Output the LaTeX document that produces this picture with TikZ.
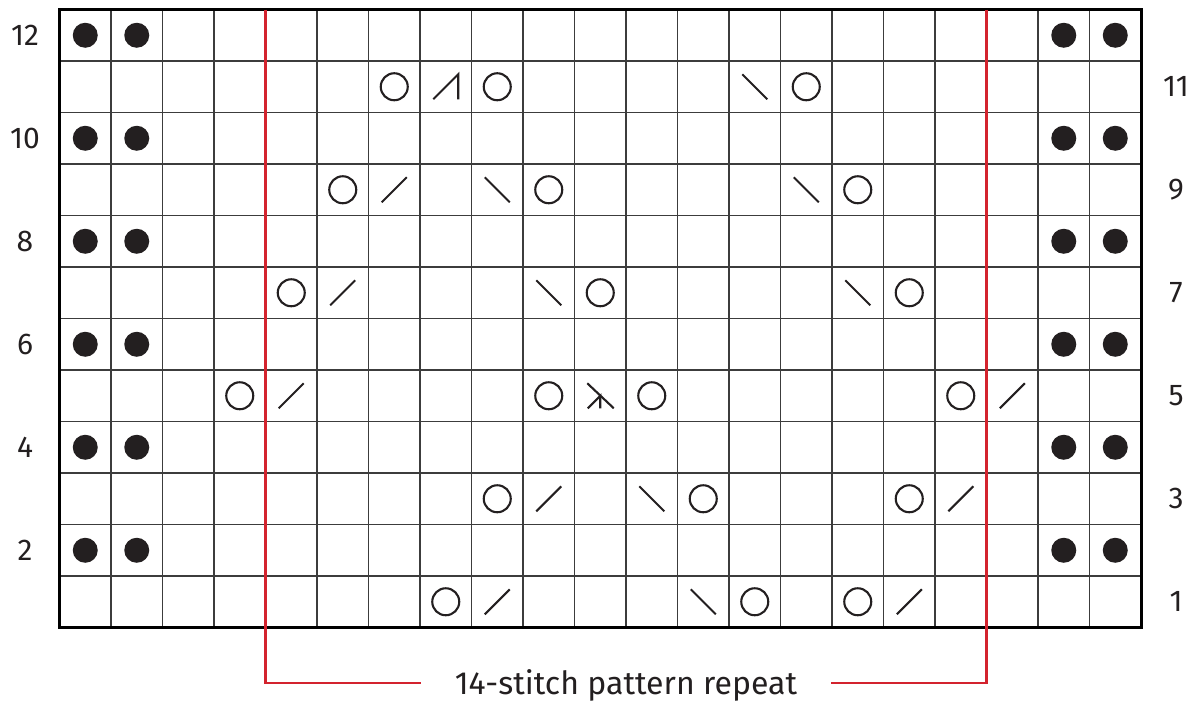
\documentclass[tikz,border=0pt]{standalone}
\usepackage{fontspec}
\setmainfont{Fira Sans}
\definecolor{ink}{RGB}{35,31,32}
\definecolor{repred}{RGB}{211,35,46}
\definecolor{gridc}{RGB}{60,60,60}
\begin{document}
\begin{tikzpicture}[x=1pt,y=-1pt]
\tikzset{
  gridline/.style={line width=1.3pt, draw=gridc},
  border/.style={line width=3pt, draw=black},
  sym/.style={line width=2.1pt, draw=ink},
  redline/.style={line width=2.8pt, draw=repred},
  rowlbl/.style={font=\fontsize{30}{30}\selectfont, text=ink, inner sep=0pt},
  replbl/.style={font=\fontsize{32}{32}\selectfont, text=ink, anchor=base, inner xsep=34pt, inner ysep=0pt, outer sep=0pt},
  pics/yarnover/.style={code={\draw[sym] (0,0) circle (13.5pt);}},
  pics/ktwotog/.style={code={\draw[sym] (-12.5,12.5) -- (12.5,-12.5);}},
  pics/sskdec/.style={code={\draw[sym] (-12.5,-12.5) -- (12.5,12.5);}},
  pics/kthreetog/.style={code={\draw[sym] (-12.5,12.5) -- (12.5,-12.5) -- (12.5,12.5);}},
  pics/cddec/.style={code={\draw[sym] (-13,-12.5) -- (13.5,12.5); \draw[sym] (-12.5,12.5) -- (0,0) -- (0,12.5);}},
  pics/purldot/.style={code={\fill[ink] (0,0) circle (12.5pt);}},
}
\useasboundingbox (0,0) rectangle (1191,702);
% grid
\foreach \i in {1,...,20} \draw[gridline] ({59.5+\i*51.5},9.5) -- ++(0,618);
\foreach \j in {1,...,11} \draw[gridline] (59.5,{9.5+\j*51.5}) -- ++(1081.5,0);
\draw[border] (59.5,9.5) rectangle (1141,627.5);
% purl dots
\foreach \r in {2,4,...,12}
  \foreach \c in {0,1,19,20}
    \pic at ({59.5+51.5*(\c+0.5)},{9.5+51.5*(12.5-\r)}) {purldot};
% yarn overs
\foreach \c/\r in {6/11,8/11,14/11,5/9,9/9,15/9,4/7,10/7,16/7,3/5,9/5,11/5,17/5,8/3,12/3,16/3,7/1,13/1,15/1}
  \pic at ({59.5+51.5*(\c+0.5)},{9.5+51.5*(12.5-\r)}) {yarnover};
% k2tog
\foreach \c/\r in {6/9,5/7,4/5,18/5,9/3,17/3,8/1,16/1}
  \pic at ({59.5+51.5*(\c+0.5)},{9.5+51.5*(12.5-\r)}) {ktwotog};
% ssk
\foreach \c/\r in {13/11,8/9,14/9,9/7,15/7,11/3,12/1}
  \pic at ({59.5+51.5*(\c+0.5)},{9.5+51.5*(12.5-\r)}) {sskdec};
\pic at ({59.5+51.5*7.5},{9.5+51.5*1.5}) {kthreetog};
\pic at ({59.5+51.5*10.5},{9.5+51.5*7.5}) {cddec};
% row labels
\foreach \r in {2,4,...,12}
  \node[rowlbl] (lbl\r) at (25,{9.5+51.5*(12.5-\r)}) {\r};
\foreach \r in {1,3,...,11}
  \node[rowlbl] (lbl\r) at (1176,{9.5+51.5*(12.5-\r)}) {\r};
% repeat bracket
\node[replbl] (rep) at (626,694) {14-stitch pattern repeat};
\coordinate (tl) at (265.5,9.5);
\coordinate (bl) at (265.5,683);
\coordinate (tr) at (986.5,9.5);
\coordinate (br) at (986.5,683);
\draw[redline] (tl) -- (bl) -- (rep.west |- bl);
\draw[redline] (tr) -- (br) -- (rep.east |- br);
\end{tikzpicture}
\end{document}
